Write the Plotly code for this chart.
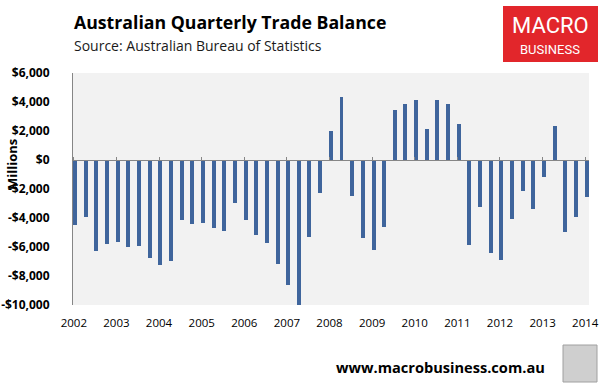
import pandas as pd
import plotly.graph_objects as go

# ---- data ----
quarters = pd.date_range("2002-01-01", periods=49, freq="QS")
trade_balance = [
    -4450, -3960, -6270, -5780,
    -5650, -5990, -5920, -6750,
    -7240, -6960, -4150, -4380,
    -4330, -4680, -4880, -2950,
    -4150, -5160, -5710, -7170,
    -8640, -9980, -5300, -2260,
    2000, 4350, -2470, -5370,
    -6220, -4610, 3460, 3870,
    4150, 2140, 4150, 3870,
    2490, -5880, -3230, -6410,
    -6910, -4080, -2120, -3360,
    -1150, 2350, -4950, -3920,
    -2580,
]
year_labels = [str(y) for y in range(2002, 2015)]
year_ticks = [f"{y}-01-01" for y in range(2002, 2015)]
y_tick_vals = [6000, 4000, 2000, 0, -2000, -4000, -6000, -8000, -10000]
y_tick_text = ["$6,000", "$4,000", "$2,000", "$0", "-$2,000", "-$4,000",
               "-$6,000", "-$8,000", "-$10,000"]

W, H = 607, 384
L, R, T, B = 73, 589, 73, 305


def px(x):
    return (x - L) / (R - L)


def py(y):
    return (B - y) / (B - T)


bar_x = quarters + pd.Timedelta(days=12)
x_range = ["2001-12-25", "2014-02-02"]

fig = go.Figure()
fig.add_trace(go.Bar(
    x=bar_x, y=trade_balance,
    marker=dict(color="#3f659c", line=dict(width=0)),
    width=34 * 24 * 3600 * 1000,
    hoverinfo="x+y",
))
# invisible trace to carry the zero-line axis
fig.add_trace(go.Scatter(x=[x_range[0]], y=[0], xaxis="x2", mode="markers",
                         marker=dict(opacity=0), hoverinfo="skip"))

fig.update_layout(
    width=W, height=H,
    margin=dict(l=L, r=W - R, t=T, b=H - B),
    paper_bgcolor="white",
    plot_bgcolor="#f2f2f2",
    showlegend=False,
    bargap=0,
    font=dict(family="Open Sans", color="#000000"),
    xaxis=dict(
        type="date", range=x_range, automargin=False,
        tickvals=year_ticks, ticktext=year_labels,
        tickfont=dict(size=11.5, family="Open Sans"),
        showgrid=False, zeroline=False, showline=False,
        ticks="", ticklabelstandoff=9,
    ),
    xaxis2=dict(
        type="date", range=x_range, overlaying="x", side="top",
        anchor="free", position=py(160), automargin=False,
        tickvals=year_ticks, showticklabels=False,
        ticks="outside", ticklen=3, tickcolor="#868686", tickwidth=1,
        showline=True, linecolor="#868686", linewidth=1,
        showgrid=False, zeroline=False,
    ),
    yaxis=dict(
        range=[-10000, 6000], automargin=False,
        tickvals=y_tick_vals, ticktext=y_tick_text,
        tickfont=dict(size=12, family="Open Sans", weight="bold"),
        showgrid=False, zeroline=False,
        showline=True, linecolor="#868686", linewidth=1,
        ticks="", ticklabelstandoff=20,
    ),
)

annotations = [
    dict(text="<b>Australian Quarterly Trade Balance</b>", x=px(72), y=py(22),
         xanchor="left", yanchor="middle", showarrow=False,
         font=dict(size=17.7, family="Open Sans", color="#000")),
    dict(text="Source: Australian Bureau of Statistics", x=px(72), y=py(46),
         xanchor="left", yanchor="middle", showarrow=False,
         font=dict(size=14, family="Open Sans", color="#1a1a1a")),
    dict(text="<b>Millions</b>", x=px(12), y=py(165), textangle=-90,
         xanchor="center", yanchor="middle", showarrow=False,
         font=dict(size=13, family="Open Sans")),
    dict(text="MACRO", x=px(550), y=py(26), xanchor="center", yanchor="middle",
         showarrow=False, font=dict(size=22, family="Roboto", color="white")),
    dict(text="BUSINESS", x=px(550), y=py(49), xanchor="center", yanchor="middle",
         showarrow=False, font=dict(size=13, family="Roboto", color="white")),
    dict(text="<b>www.macrobusiness.com.au</b>", x=px(547), y=py(367),
         xanchor="right", yanchor="middle", showarrow=False,
         font=dict(size=14.6, family="Open Sans", color="#000")),
]
for a in annotations:
    a.update(xref="paper", yref="paper")
fig.update_layout(annotations=annotations)

fig.update_layout(shapes=[
    dict(type="rect", xref="paper", yref="paper",
         x0=px(503), x1=px(598), y0=py(62), y1=py(6),
         fillcolor="#e2262b", line=dict(width=0), layer="below"),
    dict(type="rect", xref="paper", yref="paper",
         x0=px(563), x1=px(597), y0=py(382), y1=py(345),
         fillcolor="#cfcfcf", line=dict(color="#a0a0a0", width=1)),
])

fig.write_html("out.html", config={"displayModeBar": False},
               post_script="document.body.style.margin='0';document.body.style.padding='0';")
